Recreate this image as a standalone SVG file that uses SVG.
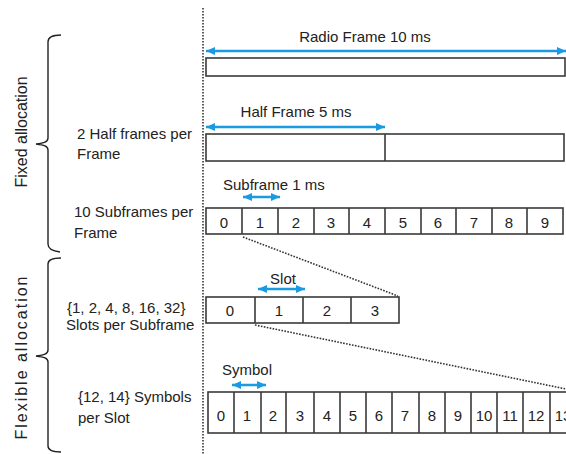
<svg xmlns="http://www.w3.org/2000/svg" width="566" height="454" viewBox="0 0 566 454">
<style>
text{font-family:"Liberation Sans",Arial,sans-serif;font-size:15px;fill:#222}
.c{text-anchor:middle}
.box{fill:#fff;stroke:#3a3a3a;stroke-width:1.6}
.div{stroke:#3a3a3a;stroke-width:1.6}
.arr{stroke:#1a9ae3;stroke-width:2.6;fill:none;marker-start:url(#ah);marker-end:url(#ah)}
.dot{stroke:#333;stroke-width:1.6;stroke-dasharray:1.6 1.4;fill:none}
.brace{fill:none;stroke:#222;stroke-width:1.4}
</style>
<defs>
<marker id="ah" markerUnits="userSpaceOnUse" markerWidth="9" markerHeight="8" refX="9" refY="4" orient="auto-start-reverse">
<path d="M0,0 L9,4 L0,8 z" fill="#1a9ae3"/>
</marker>
</defs>
<rect width="566" height="454" fill="#fff"/>

<g id="divider">
<line class="dot" x1="203" y1="8" x2="203" y2="454"/>
</g>

<g id="fixed-allocation">
<path class="brace" d="M61,35 C52,35 48,37 48,42 L48,138 C48,142 44,143 36,144 C44,145 48,146 48,150 L48,244 C48,249 52,251 60,252"/>
<text transform="translate(27,132) rotate(-90)" class="c" font-size="16" style="font-size:16px">Fixed allocation</text>
</g>
<g id="flexible-allocation">
<path class="brace" d="M61,258 C52,258 48,260 48,264 L48,350 C48,354 44,355 36,356 C44,357 48,358 48,362 L48,446 C48,450 52,452 61,452"/>
<text transform="translate(27,358) rotate(-90)" class="c" style="font-size:16px" textLength="163" lengthAdjust="spacing">Flexible allocation</text>
</g>

<g id="label-half">
<text x="77" y="139">2 Half frames per</text>
<text x="77" y="159">Frame</text>
</g>
<g id="label-sub">
<text x="74" y="217">10 Subframes per</text>
<text x="74" y="238">Frame</text>
</g>
<g id="label-slot">
<text x="67" y="313">{1, 2, 4, 8, 16, 32}</text>
<text x="66" y="330">Slots per Subframe</text>
</g>
<g id="label-sym">
<text x="78" y="402">{12, 14} Symbols</text>
<text x="78" y="423">per Slot</text>
</g>

<g id="radio-frame">
<rect class="box" x="206" y="58" width="359" height="18"/>
<text x="365" y="42" class="c">Radio Frame 10 ms</text>
</g>

<g id="half-frame">
<rect class="box" x="206" y="134" width="358" height="27"/>
<line class="div" x1="385" y1="134" x2="385" y2="161"/>
<text x="296" y="117" class="c">Half Frame 5 ms</text>
</g>

<g id="subframes">
<rect class="box" x="206" y="208" width="357" height="26"/>
<path class="div" d="M242,208V234M278,208V234M314,208V234M349,208V234M385,208V234M421,208V234M456,208V234M492,208V234M527,208V234"/>
<text x="224" y="228" class="c">0</text>
<text x="260" y="228" class="c">1</text>
<text x="296" y="228" class="c">2</text>
<text x="331" y="228" class="c">3</text>
<text x="367" y="228" class="c">4</text>
<text x="403" y="228" class="c">5</text>
<text x="438" y="228" class="c">6</text>
<text x="474" y="228" class="c">7</text>
<text x="509" y="228" class="c">8</text>
<text x="545" y="228" class="c">9</text>
<text x="223" y="190">Subframe 1 ms</text>
</g>

<g id="slots">
<rect class="box" x="206" y="297" width="193" height="26"/>
<path class="div" d="M255,297V323M303,297V323M351,297V323"/>
<text x="230" y="316" class="c">0</text>
<text x="279" y="316" class="c">1</text>
<text x="327" y="316" class="c">2</text>
<text x="375" y="316" class="c">3</text>
<text x="283" y="284" class="c">Slot</text>
</g>

<g id="symbols">
<rect class="box" x="208" y="392" width="370" height="41"/>
<path class="div" d="M234,392V433M261,392V433M286,392V433M314,392V433M340,392V433M366,392V433M392,392V433M419,392V433M445,392V433M471,392V433M497,392V433M523,392V433M550,392V433"/>
<text x="221" y="421" class="c">0</text>
<text x="247" y="421" class="c">1</text>
<text x="273" y="421" class="c">2</text>
<text x="300" y="421" class="c">3</text>
<text x="327" y="421" class="c">4</text>
<text x="353" y="421" class="c">5</text>
<text x="379" y="421" class="c">6</text>
<text x="405" y="421" class="c">7</text>
<text x="432" y="421" class="c">8</text>
<text x="458" y="421" class="c">9</text>
<text x="484" y="421" class="c">10</text>
<text x="510" y="421" class="c">11</text>
<text x="536" y="421" class="c">12</text>
<text x="563" y="421" class="c">13</text>
<text x="222" y="375">Symbol</text>
</g>

<g id="connectors">
<line class="arr" x1="206" y1="51" x2="566" y2="51"/>
<line class="arr" x1="206" y1="127" x2="385" y2="127"/>
<line class="arr" x1="243" y1="197" x2="280" y2="197"/>
<line class="arr" x1="258" y1="289" x2="305" y2="289"/>
<line class="arr" x1="232" y1="385" x2="266" y2="385"/>
<line class="dot" x1="243" y1="237" x2="398" y2="296"/>
<line class="dot" x1="255" y1="325" x2="566" y2="389"/>
</g>
</svg>
